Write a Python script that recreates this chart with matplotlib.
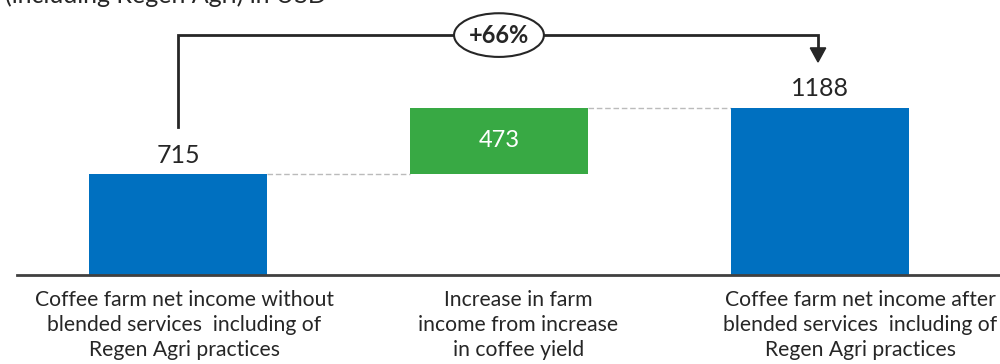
import matplotlib
matplotlib.use("Agg")
import matplotlib.pyplot as plt
from matplotlib.patches import Ellipse, Polygon

plt.rcParams['font.family'] = ['Lato', 'DejaVu Sans']

categories = [
    "Coffee farm net income without\nblended services  including of\nRegen Agri practices",
    "Increase in farm\nincome from increase\nin coffee yield",
    "Coffee farm net income after\nblended services  including of\nRegen Agri practices",
]
baseline_income = 715
yield_increase = 473
final_income = 1188
subtitle = "(including Regen Agri) in USD"

BLUE = "#0070C0"
GREEN = "#38A944"

W, H = 1000, 364
fig = plt.figure(figsize=(W / 100, H / 100), dpi=100)
ax = fig.add_axes([17 / W, (H - 275) / H, 983 / W, 275 / H])

bar_w = 0.555
xs = [0, 1, 2]
label_xs = [0.02, 1.06, 2.125]
ax.bar(xs[0], baseline_income, width=bar_w, color=BLUE, zorder=2)
ax.bar(xs[1], yield_increase, bottom=baseline_income, width=bar_w, color=GREEN, zorder=2)
ax.bar(xs[2], final_income, width=bar_w, color=BLUE, zorder=2)

ax.set_xlim(-0.5016, 2.561)
ax.set_ylim(0, 1952)

# connector lines between bars
ax.plot([xs[0] + bar_w / 2, xs[1] - bar_w / 2], [baseline_income] * 2,
        ls=(0, (4, 2)), color="#BBBBBB", lw=1, zorder=1)
ax.plot([xs[1] + bar_w / 2, xs[2] - bar_w / 2], [baseline_income + yield_increase] * 2,
        ls=(0, (4, 2)), color="#BBBBBB", lw=1, zorder=1)

# value labels
ax.text(xs[0], baseline_income + 55, f"{baseline_income}", ha="center", va="bottom",
        fontsize=18, color="#262626")
ax.text(xs[2], final_income + 55, f"{final_income}", ha="center", va="bottom",
        fontsize=18, color="#262626")
ax.text(xs[1], baseline_income + yield_increase / 2, f"{yield_increase}", ha="center",
        va="center", fontsize=17, color="white")

# growth bracket arrow
y_top = 1703
y_start = baseline_income + 333
y_tip = final_income + 324
x_end = 1.994
ax.plot([0, 0, x_end, x_end], [y_start, y_top, y_top, y_tip + 90],
        color="#262626", lw=2, solid_joinstyle="miter", zorder=3)
head = Polygon([[x_end - 0.024, y_tip + 100], [x_end + 0.024, y_tip + 100], [x_end, y_tip]],
               closed=True, color="#262626", zorder=3)
ax.add_patch(head)

pct = round((final_income - baseline_income) / baseline_income * 100)
ax.add_patch(Ellipse((1, y_top), 0.28, 310, facecolor="white", edgecolor="#262626",
                     lw=1.5, zorder=4))
ax.text(1, y_top, f"+{pct}%", ha="center", va="center", fontsize=17, fontweight="bold",
        color="#262626", zorder=5)

# category labels under the axis
for x, lab in zip(label_xs, categories):
    ax.text(x, -108, lab, ha="center", va="top", fontsize=15.2, color="#262626",
            linespacing=1.32)

for s in ["top", "right", "left"]:
    ax.spines[s].set_visible(False)
ax.spines["bottom"].set_color("#404040")
ax.spines["bottom"].set_linewidth(2)
ax.set_xticks([])
ax.set_yticks([])

fig.text(5 / W, 1 - 3 / H, subtitle, ha="left", va="baseline", fontsize=18, color="#262626")

fig.savefig("out.png", dpi=100)
